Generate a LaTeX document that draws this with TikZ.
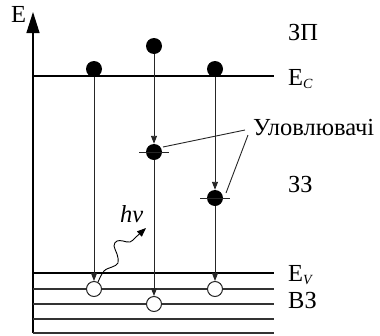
\documentclass[tikz,border=0pt]{standalone}
\usepackage{fontspec}
\setmainfont{Liberation Serif}
\usetikzlibrary{arrows.meta}
\begin{document}
\begin{tikzpicture}[x=1pt,y=-1pt,
  lbl/.style={inner sep=0pt,anchor=base west,font=\fontsize{24.5}{28}\selectfont},
  thinlevel/.style={line width=1.1pt,black!80},
  thicklevel/.style={line width=2.2pt},
  electron/.style={circle,fill=black,minimum size=16pt,inner sep=0pt},
  hole/.style={circle,draw=black!85,line width=1pt,fill=white,minimum size=15pt,inner sep=0pt},
  trans/.style={line width=0.9pt,black!85,-{Triangle[length=8pt,width=6pt]}},
  tick/.style={line width=0.9pt,black!85},
  leader/.style={line width=0.9pt,black!85},
  photon/.style={line width=0.9pt,-{Triangle[length=9pt,width=7pt]}}]
\useasboundingbox (0,0) rectangle (380,335);
% axis
\coordinate (ax0) at (33,333);
\coordinate (ax1) at (33,12);
\draw[line width=1.3pt,-{Triangle[length=21pt,width=13pt]}] (ax0) -- (ax1);
\node[lbl] (E) at (11,22) {E};
% levels
\coordinate (c0) at (33,76);  \coordinate (c1) at (274,76);
\coordinate (v0) at (33,273); \coordinate (v1) at (274,273);
\draw[thicklevel] (c0) -- (c1);
\draw[thicklevel] (v0) -- (v1);
\foreach \yy/\nm in {289/a,304/b,319/c,333/d}{
  \coordinate (l\nm0) at (33,\yy); \coordinate (l\nm1) at (274,\yy);
  \draw[thinlevel] (l\nm0) -- (l\nm1);
}
% particles
\node[electron] (e1) at (94,69) {};
\node[electron] (e2) at (154,46) {};
\node[electron] (e3) at (215,69) {};
\node[electron] (t1) at (154,152) {};
\node[electron] (t2) at (215,198) {};
\coordinate (t1a) at (139,152); \coordinate (t1b) at (169,152);
\coordinate (t2a) at (200,198); \coordinate (t2b) at (230,198);
\draw[tick] (t1a) -- (t1b);
\draw[tick] (t2a) -- (t2b);
\node[hole] (h1) at (94,289) {};
\node[hole] (h2) at (154,304) {};
\node[hole] (h3) at (215,289) {};
% transitions
\draw[trans] (e1) -- (h1);
\draw[trans] (e2) -- (t1);
\draw[trans] (t1) -- (h2);
\draw[trans] (e3) -- (t2);
\draw[trans] (t2) -- (h3);
% photon
\coordinate (ph) at (146,228);
\draw[photon] plot[smooth,tension=0.7] coordinates {(h1.60) (104,271) (112,267) (118,263) (117,254) (114,246) (117,241) (123,241) (130,242) (136,237) (ph)};
\node[lbl,font=\fontsize{24.5}{28}\selectfont\itshape] (hv) at (120,222) {hν};
% labels
\node[lbl] (zp) at (288,40) {ЗП};
\node[lbl] (ec) at (288,85) {E\raisebox{-3.5pt}{\fontsize{14}{14}\selectfont\itshape C}};
\node[lbl] (ul) at (253,135) {Уловлювачі};
\node[lbl] (zz) at (288,192) {ЗЗ};
\node[lbl] (ev) at (288,281) {E\raisebox{-3.5pt}{\fontsize{14}{14}\selectfont\itshape V}};
\node[lbl] (vz) at (288,308) {ВЗ};
% leaders
\coordinate (u1) at (245,130);
\coordinate (u2) at (248,135);
\draw[leader] (u1) -- ([xshift=9pt,yshift=5pt]t1.center);
\draw[leader] (u2) -- ([xshift=11pt,yshift=5pt]t2.center);
\end{tikzpicture}
\end{document}
